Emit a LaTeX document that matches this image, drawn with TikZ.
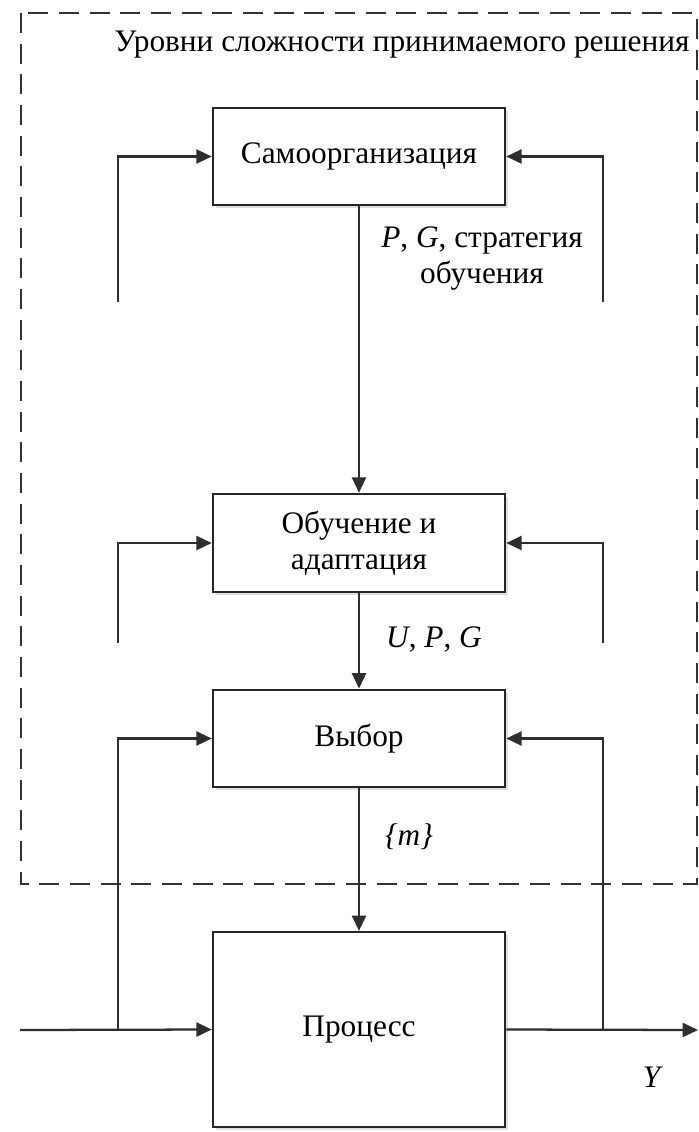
\documentclass[tikz,border=0pt]{standalone}
\usepackage{fontspec}
\setmainfont{Liberation Serif}
\usetikzlibrary{arrows.meta,shadows}

\tikzset{
  block/.style={draw=black!85, line width=1.9pt, fill=white, minimum width=219pt,
    align=center, font=\fontsize{23.5}{27}\selectfont,
    drop shadow={opacity=0.25, shadow xshift=2.2pt, shadow yshift=-2.2pt}},
  link/.style={draw=black!82, line width=1.7pt},
  arr/.style={link, -{Triangle[length=11.5pt,width=10.5pt]}},
  lbl/.style={font=\fontsize{23.5}{27}\selectfont, align=center, inner sep=0pt},
  frame/.style={draw=black!80, line width=1.7pt, dash pattern=on 15pt off 8pt}
}

\begin{document}
\begin{tikzpicture}[x=0.75pt, y=-0.75pt]
  \useasboundingbox (0,0) rectangle (699,1132);

  % boundary of the decision-complexity levels
  \draw[frame] (21,13) rectangle (697,884);
  \node[lbl] (title) at (402,45) {Уровни сложности принимаемого решения};

  % blocks
  \node[block, minimum height=73pt] (self) at (359,156.5) {Самоорганизация};
  \node[block, minimum height=73.5pt] (learn) at (359,543) {Обучение и\\адаптация};
  \node[block, minimum height=73pt] (choice) at (359,738.5) {Выбор};
  \node[block, minimum height=146pt] (proc) at (359,1029.5) {Процесс};

  % main vertical chain
  \draw[arr] (self.south) -- (learn.north);
  \draw[arr] (learn.south) -- (choice.north);
  \draw[arr] (choice.south) -- (proc.north);

  \node[lbl] (l1) at (482,259) {\textit{P}, \textit{G}, стратегия\\обучения};
  \node[lbl] (l2) at (434,640) {\textit{U}, \textit{P}, \textit{G}};
  \node[lbl] (l3) at (409,837) {\textit{\{m\}}};

  % inputs from the outer levels
  \coordinate (sa) at (118,302);
  \coordinate (sb) at (603,302);
  \coordinate (la) at (118,643);
  \coordinate (lb) at (603,643);
  \draw[arr] (sa) |- (self.west);
  \draw[arr] (sb) |- (self.east);
  \draw[arr] (la) |- (learn.west);
  \draw[arr] (lb) |- (learn.east);

  % process input and output
  \coordinate (in) at (20,1030);
  \coordinate (ja) at (118,1030);
  \coordinate (jb) at (603,1030);
  \coordinate (out) at (698,1030);
  \draw[arr] (in) -- (proc.west);
  \draw[arr] (proc.east) -- (out);
  \draw[arr] (ja) |- (choice.west);
  \draw[arr] (jb) |- (choice.east);

  \node[lbl] (y) at (653,1077) {\textit{Y}};
\end{tikzpicture}
\end{document}
